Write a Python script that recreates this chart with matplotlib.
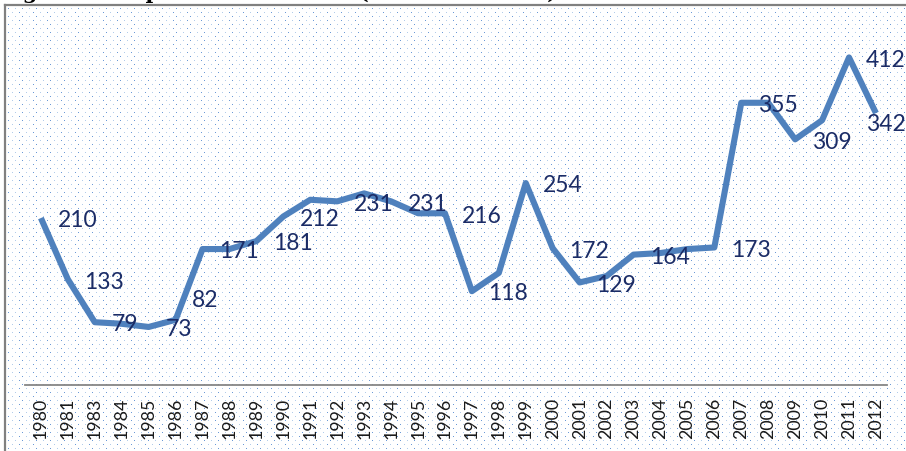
import numpy as np
import matplotlib
matplotlib.use("Agg")
import matplotlib.pyplot as plt
from matplotlib.lines import Line2D

years = ['1980', '1981', '1983', '1984', '1985', '1986', '1987', '1988', '1989', '1990',
         '1991', '1992', '1993', '1994', '1995', '1996', '1997', '1998', '1999', '2000',
         '2001', '2002', '2003', '2004', '2005', '2006', '2007', '2008', '2009', '2010',
         '2011', '2012']
values = [210, 133, 79, 77, 73, 82, 171, 171, 181, 212,
          233, 231, 241, 231, 216, 216, 118, 141, 254, 172,
          129, 137, 164, 166, 171, 173, 355, 355, 309, 333,
          412, 342]
# which points carry a data label
labelled = ['1980', '1981', '1983', '1985', '1986', '1987', '1989', '1990', '1992', '1994',
            '1996', '1997', '1999', '2000', '2001', '2003', '2006', '2007', '2009', '2011', '2012']

W, H = 906, 451
fig = plt.figure(figsize=(W / 100, H / 100), dpi=100)
fig.patch.set_facecolor('white')

# dotted background like the excel chart area
bg = np.ones((H, W, 3))
dark = np.array([0.42, 0.60, 0.84])
light = np.array([0.70, 0.80, 0.92])
for i, r in enumerate(range(8, H, 4)):
    off = 0 if i % 2 == 0 else 4
    for j, c in enumerate(range(8 + off, W, 7)):
        bg[r, c] = dark if (i + j) % 2 == 0 else light
fig.figimage(bg, 0, 0, origin='upper', zorder=0)

# chart border (left and top visible)
fig.add_artist(Line2D([5 / W, 5 / W], [0, 1 - 5 / H], color='#808080', lw=1.6,
                      transform=fig.transFigure, zorder=2))
fig.add_artist(Line2D([5 / W, 1], [1 - 5 / H, 1 - 5 / H], color='#808080', lw=1.6,
                      transform=fig.transFigure, zorder=2))

# cut-off title at the very top, only the descenders show
fig.text(0.0, 1 + 1 / H, 'Figure 4: Import of Fertilizers (in Lakh Tonnes)', fontsize=15,
         fontweight='bold', family='DejaVu Serif', ha='left', va='baseline', color='black',
         zorder=3)

ax = fig.add_axes([25 / W, (H - 385) / H, (887 - 25) / W, 357.75 / H])
ax.set_zorder(2)
ax.patch.set_visible(False)

x = np.arange(len(years))
ax.plot(x, values, color='#4F81BD', lw=4.4, solid_joinstyle='round', solid_capstyle='butt', zorder=3)

for i, (yr, v) in enumerate(zip(years, values)):
    if yr not in labelled:
        continue
    dx, dy = 12, -2
    if yr == '1986':
        dy = 14
    if yr == '2012':
        dx, dy = -7, -8
    ax.annotate(str(v), (i, v), xytext=(dx, dy), textcoords='offset points',
                ha='left', va='center', fontsize=16.5, family='Lato', color='#1B2C66', zorder=4)

ax.set_xlim(-0.59, len(years) - 1 + 0.41)
ax.set_ylim(0, 450)
ax.set_xticks(x)
ax.set_xticklabels(years, rotation=90, fontsize=12.8, family='Lato', color='#1a1a1a')
ax.tick_params(axis='x', length=0, pad=9)
ax.set_yticks([])
for s in ['top', 'right', 'left']:
    ax.spines[s].set_visible(False)
ax.spines['bottom'].set_color('#868686')
ax.spines['bottom'].set_linewidth(1.3)

fig.savefig('out.png', dpi=100)
